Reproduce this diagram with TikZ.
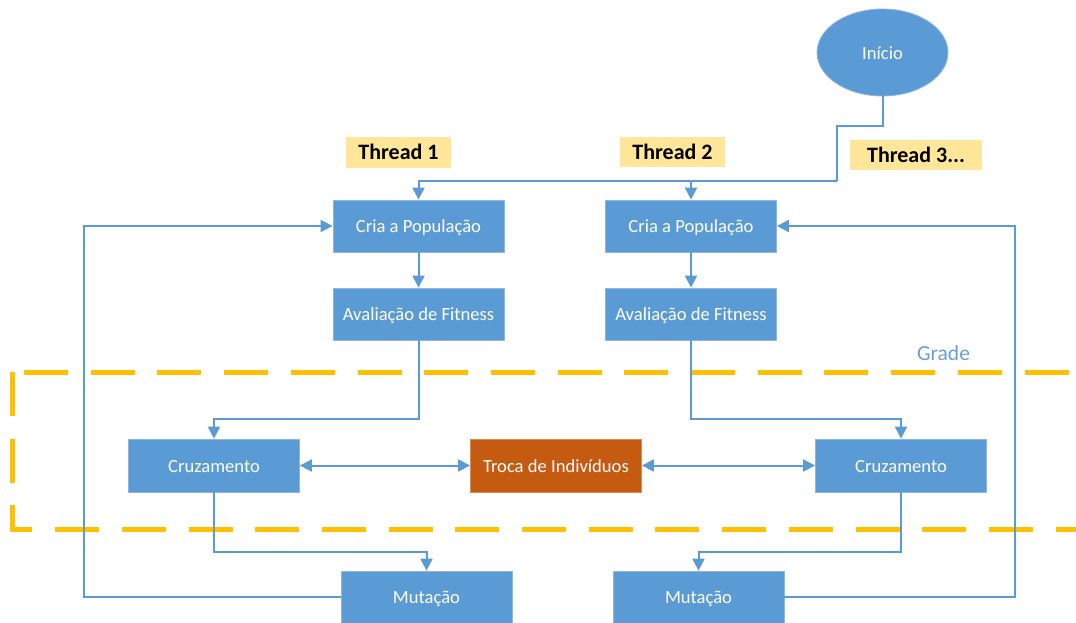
\documentclass[tikz,border=0pt]{standalone}
\usepackage{fontspec}
\setmainfont{Carlito}
\usetikzlibrary{arrows.meta,shapes.geometric}
\definecolor{boxblue}{HTML}{5B9BD5}
\definecolor{boxedge}{HTML}{8FB6E0}
\definecolor{swaporange}{HTML}{C55A11}
\definecolor{tagfill}{HTML}{FFE699}
\definecolor{gridgold}{HTML}{FFC000}
\definecolor{gridtext}{HTML}{6A9FD6}
\tikzset{
  procbox/.style={rectangle, fill=boxblue, draw=boxedge, line width=0.8pt,
    minimum width=171pt, minimum height=52pt, inner sep=0pt,
    text height=13.4pt, text depth=0pt,
    text=white, font=\fontsize{18.6}{22}\selectfont},
  swapbox/.style={procbox, fill=swaporange, draw=swaporange!70!white},
  startnode/.style={ellipse, fill=boxblue, draw=boxedge, line width=0.8pt,
    minimum width=131pt, minimum height=87pt, inner sep=0pt,
    text height=13.4pt, text depth=0pt,
    text=white, font=\fontsize{18.6}{22}\selectfont},
  threadtag/.style={rectangle, fill=tagfill, minimum height=30pt, inner sep=0pt,
    text height=14.5pt, text depth=0pt,
    font=\bfseries\fontsize{22}{26}\selectfont, text=black},
  flow/.style={draw=boxblue, line width=2pt},
  arr/.style={flow, -{Triangle[length=12pt,width=12pt]}},
  biarr/.style={flow, {Triangle[length=12pt,width=12pt]}-{Triangle[length=12pt,width=12pt]}},
  gridline/.style={draw=gridgold, line width=5pt, dash pattern=on 44pt off 22.7pt},
}
\begin{document}
\begin{tikzpicture}[x=1pt,y=-1pt]
\clip (0,0) rectangle (1076,623);
\fill[white] (0,0) rectangle (1076,623);

% grid boundary
\draw[gridline] (24,372) -- (1090,372);
\draw[gridline] (12,372) -- (12,529) -- (1090,529);
\node[text=gridtext, font=\fontsize{21.5}{25}\selectfont, anchor=base] (gridlabel) at (943.5,360) {Grade};

% thread tags
\node[threadtag, minimum width=105pt] (tag1) at (398.5,152.5) {Thread 1};
\node[threadtag, minimum width=105pt] (tag2) at (672.5,152) {Thread 2};
\node[threadtag, minimum width=132pt] (tag3) at (916,155) {Thread 3...};

% nodes
\node[startnode] (inicio) at (882.5,52.5) {Início};
\node[procbox] (cria1) at (418.5,226) {Cria a População};
\node[procbox] (cria2) at (691,226) {Cria a População};
\node[procbox] (aval1) at (418.5,314) {Avaliação de Fitness};
\node[procbox] (aval2) at (691,314) {Avaliação de Fitness};
\node[procbox, minimum height=53pt] (cruz1) at (214,465.5) {Cruzamento};
\node[swapbox, minimum height=53pt] (troca) at (556,465.5) {Troca de Indivíduos};
\node[procbox, minimum height=53pt] (cruz2) at (901,465.5) {Cruzamento};
\node[procbox] (mut1) at (426.5,597) {Mutação};
\node[procbox] (mut2) at (698.5,597) {Mutação};

% routing points
\coordinate (step1) at (837,126);
\coordinate (bus) at (837,181);
\coordinate (ret1) at (84,0);
\coordinate (ret2) at (1015,0);
\coordinate (mid1) at (0,419);
\coordinate (mid2) at (0,551.5);

% start to both threads
\draw[flow] (inicio.south) |- (step1) -- (bus);
\draw[arr] (bus) -| (cria1.north);
\draw[arr] (cria2.north |- bus) -- (cria2.north);

% thread 1
\draw[arr] (cria1) -- (aval1);
\draw[arr] (aval1.south) -- (aval1.south |- mid1) -| (cruz1.north);
\draw[arr] (cruz1.south) -- (cruz1.south |- mid2) -| (mut1.north);
\draw[arr] (mut1.west) -| (ret1 |- cria1.west) -- (cria1.west);

% thread 2
\draw[arr] (cria2) -- (aval2);
\draw[arr] (aval2.south) -- (aval2.south |- mid1) -| (cruz2.north);
\draw[arr] (cruz2.south) -- (cruz2.south |- mid2) -| (mut2.north);
\draw[arr] (mut2.east) -| (ret2 |- cria2.east) -- (cria2.east);

% individual exchange
\draw[biarr] (cruz1.east) -- (troca.west);
\draw[biarr] (troca.east) -- (cruz2.west);
\end{tikzpicture}
\end{document}
